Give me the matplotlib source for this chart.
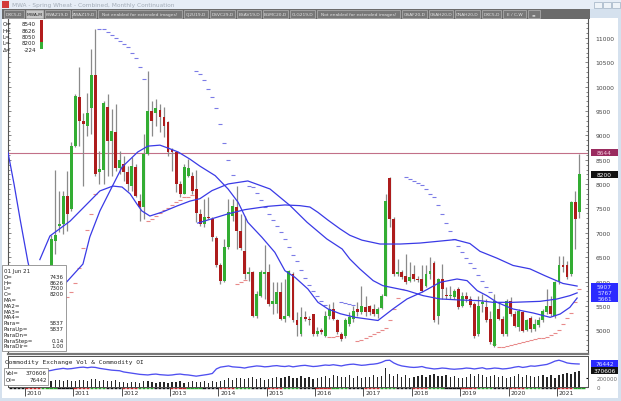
import numpy as np
import pandas as pd
import matplotlib
matplotlib.use("Agg")
import matplotlib.pyplot as plt
from matplotlib.patches import Rectangle
from matplotlib.ticker import MultipleLocator
import matplotlib.transforms as mtransforms

# ------------------------------------------------------------------ data
first_month = "2010-07"
opens = [5750, 6830, 7150, 7180, 7760, 7490,
         8790, 9795, 9290, 9200, 9560, 10240, 8250, 8280, 9580, 8890, 9080, 8340,
         8410, 8240, 7970, 8360, 7660, 7520, 8620, 9510, 9450, 9520, 9380, 9270,
         8700, 8650, 8010, 7800, 8170, 8170, 7900, 7390, 7180, 7320, 7280, 6890,
         6330, 6020, 6700, 7350, 7520, 7040, 6630, 6160, 6190, 5300, 5710, 6150,
         6190, 5540, 5540, 5780, 5230, 5300, 6150, 5200, 4920, 5265, 5230, 5330,
         4920, 5000, 4890, 5300, 5440, 5200, 4920, 4890, 5130, 5230, 5440, 5370,
         5470, 5500, 5440, 5330, 5450, 5710, 8120, 7280, 6155, 6200, 6120, 6010,
         6150, 6060, 6050, 5915, 6150, 6390, 5300, 6050, 5720, 5700, 5680, 5850,
         5500, 5710, 5640, 5540, 4920, 5540, 5470, 5230, 4680, 5440, 5230, 4920,
         5600, 5330, 5060, 5370, 5000, 5260, 5030, 5100, 5200, 5370, 5500, 5300,
         5980, 6330, 6330, 6155, 7626, 7436]
highs = [6950, 8300, 7860, 7850, 8270, 8860,
         9850, 10400, 9470, 9880, 10770, 11180, 8690, 9700, 9850, 9540, 9640, 8690,
         8580, 8380, 8550, 8410, 7800, 9030, 10330, 9710, 9750, 9640, 9580, 9300,
         8750, 8690, 8070, 8410, 8510, 8240, 8300, 7490, 7700, 7730, 7320, 6930,
         6390, 6870, 7700, 7700, 7970, 7390, 7350, 6290, 6220, 5800, 6230, 6740,
         6360, 5980, 5980, 5980, 6050, 6230, 6190, 5370, 5470, 5400, 5300, 5340,
         5060, 5050, 5400, 5540, 5570, 5230, 4960, 5250, 5370, 5500, 5570, 5900,
         5700, 5520, 5540, 5470, 5740, 7800, 8150, 7320, 6460, 6230, 6560, 6400,
         6330, 6120, 6330, 6330, 6500, 6420, 6080, 6360, 5880, 5900, 5850, 5880,
         5780, 5780, 5710, 5580, 5710, 5740, 5640, 5400, 5740, 5570, 5300, 5640,
         5680, 5400, 5440, 5400, 5230, 5300, 5230, 5270, 5440, 5850, 5710, 6020,
         6530, 6530, 6430, 7660, 7865, 8626]
lows = [5450, 6560, 7010, 6980, 7030, 7450,
        8760, 8790, 7970, 8990, 9030, 8170, 8000, 8000, 8170, 8170, 8270, 8210,
        8070, 7860, 7860, 7730, 7250, 7280, 8600, 8990, 9200, 9060, 8960, 8580,
        8270, 7830, 7730, 7790, 8140, 7800, 7220, 7150, 7110, 7280, 6840, 6290,
        5950, 5990, 6670, 7250, 6670, 6650, 6050, 6010, 5270, 5250, 5680, 5640,
        5500, 5330, 5360, 5200, 5160, 5270, 5160, 4890, 4890, 5190, 5100, 4890,
        4890, 4930, 4860, 5230, 5200, 4920, 4780, 4850, 5090, 5160, 5300, 5330,
        5300, 5320, 5300, 5260, 5430, 5700, 7110, 6120, 6120, 6050, 5950, 5980,
        6020, 5990, 5780, 5880, 6050, 5160, 5130, 5640, 5640, 5640, 5640, 5430,
        5470, 5580, 5480, 4850, 4890, 5370, 5160, 4720, 4650, 5200, 4890, 4890,
        5300, 5060, 4990, 4960, 4990, 4960, 4990, 5060, 5160, 5330, 5300, 5260,
        5950, 6190, 6050, 6120, 6670, 7300]
closes = [6870, 6960, 7190, 7760, 7390, 8790,
          9815, 9290, 9230, 9450, 10240, 8210, 8310, 9660, 8890, 9100, 8340, 8490,
          8240, 8010, 8380, 7760, 7520, 8620, 9510, 9300, 9555, 9370, 9200, 8650,
          8660, 8000, 7800, 8360, 8340, 7860, 7400, 7180, 7320, 7300, 6910, 6330,
          6020, 6700, 7420, 7560, 7040, 6680, 6155, 6190, 5300, 5745, 6190, 6200,
          5540, 5600, 5780, 5230, 5300, 6220, 5200, 5100, 5265, 5230, 5200, 4920,
          4990, 4960, 5300, 5440, 5230, 4960, 4820, 5200, 5265, 5400, 5370, 5500,
          5370, 5370, 5330, 5430, 5710, 7660, 7280, 6155, 6200, 6090, 5990, 6090,
          6050, 6030, 5810, 6155, 6220, 5200, 6050, 5850, 5700, 5720, 5810, 5470,
          5710, 5640, 5520, 4890, 5500, 5580, 5200, 4750, 5600, 5230, 4920, 5590,
          5330, 5090, 5400, 4990, 5200, 5030, 5130, 5200, 5400, 5500, 5330, 5980,
          6330, 6300, 6090, 7626, 7284, 8200]
volume_k = [150, 170, 160, 150, 165, 140,
            150, 160, 170, 140, 180, 190, 140, 170, 150, 130, 160, 120,
            110, 100, 120, 110, 100, 130, 140, 110, 100, 110, 120, 90,
            110, 120, 130, 100, 120, 140, 110, 120, 130, 100, 140, 110,
            150, 160, 200, 170, 210, 220, 180, 200, 230, 190, 220, 170,
            190, 210, 230, 200, 240, 260, 210, 220, 250, 200, 240, 190,
            210, 230, 260, 220, 270, 250, 230, 240, 270, 220, 250, 210,
            230, 240, 280, 230, 260, 450, 300, 260, 300, 240, 270, 220,
            230, 250, 280, 240, 270, 300, 250, 260, 280, 230, 260, 210,
            220, 240, 290, 250, 300, 280, 240, 260, 280, 230, 250, 200,
            230, 250, 290, 240, 270, 260, 230, 250, 280, 240, 270, 220,
            280, 300, 330, 290, 340, 370.606]
oi_first_month = "2009-09"
open_interest_k = [38, 40, 42, 44,
                   45, 47, 48, 50, 52, 53, 55, 58, 60, 62, 60, 61,
                   63, 65, 66, 64, 66, 65, 62, 60, 58, 56, 55, 54,
                   50, 48, 46, 44, 42, 41, 40, 42, 43, 41, 40, 39,
                   40, 42, 43, 41, 40, 38, 36, 38, 40, 42, 45, 60,
                   66, 68, 70, 67, 66, 65, 63, 66, 68, 70, 69, 67,
                   68, 70, 71, 69, 68, 70, 67, 69, 71, 72, 70, 68,
                   69, 71, 73, 72, 74, 72, 70, 73, 75, 76, 74, 72,
                   73, 75, 76, 78, 82, 88, 89, 80, 74, 70, 68, 66,
                   65, 66, 68, 64, 62, 60, 61, 63, 62, 60, 59, 60,
                   61, 63, 62, 60, 62, 64, 60, 61, 63, 62, 60, 61,
                   63, 66, 68, 65, 67, 70, 69, 71, 73, 75, 80, 86,
                   89, 85, 80, 78, 77, 76.442]

# moving-average lines (month index from Jan 2010, value)
ma1_t = [-4.7, -3.2, -1.7, 0.2, 3.2, 6.2, 7.7, 9.4, 13.9, 15.6, 18.1, 20.6, 23.6, 27.5,
         30.0, 33.0, 35.0, 37.5, 40.4, 42.9, 46.7, 49.9, 52.4, 54.8, 58.3, 61.5, 64.0,
         66.5, 69.7, 72.2, 74.7, 77.7, 81.4, 87.1, 90.8, 94.3, 98.3, 102.5, 106.7, 109.2,
         111.7, 114.1, 116.6, 120.6, 125.6, 129.8, 132.3, 134.7, 136.5]
ma1_v = [8650, 8000, 7280, 6420, 5300, 5250, 5500, 5950, 6360, 6915, 7450, 7860, 8350, 8660,
         8780, 8800, 8740, 8660, 8515, 8370, 8174, 7900, 7626, 7216, 6908, 6600, 6223,
         6086, 5847, 5573, 5436, 5340, 5265, 5200, 5436, 5642, 5792, 5984, 6052, 6018,
         5813, 5710, 5573, 5436, 5354, 5265, 5333, 5470, 5661]
ma2_t = [3.2, 5.7, 10.7, 15.6, 18.1, 21.3, 23.6, 25.6, 27.3, 28.5, 30.5, 33.7, 37.2, 40.4,
         42.9, 45.9, 49.9, 54.8, 60.3, 65.3, 69.5, 74.4, 78.2, 80.1, 82.6, 85.9, 88.3, 94.3,
         98.3, 102.5, 107.4, 112.4, 115.6, 120.6, 127.3, 131.5, 134.7, 136.5]
ma2_v = [6450, 6935, 7240, 7650, 7860, 7960, 7940, 7800, 7590, 7450, 7345, 7430, 7550, 7650,
         7700, 7866, 8003, 8065, 7900, 7558, 7216, 6874, 6668, 6463, 6258, 6018, 5915, 5813,
         5710, 5642, 5621, 5607, 5573, 5573, 5593, 5641, 5710, 5767]
ma3_t = [42.4, 49.9, 54.1, 59.8, 64.0, 67.7, 70.2, 72.2, 74.7, 77.7, 80.1, 83.1, 87.6, 92.6,
         97.5, 102.5, 106.2, 109.9, 112.4, 116.6, 120.6, 124.8, 128.5, 133.0, 136.5]
ma3_v = [7200, 7390, 7476, 7544, 7572, 7558, 7530, 7420, 7260, 7080, 6950, 6850, 6770, 6770,
         6790, 6830, 6860, 6780, 6620, 6480, 6330, 6260, 6120, 5960, 5907]

ref_level = 8644
price_ticks = list(range(5000, 11001, 500))
year_labels = [str(y) for y in range(2010, 2022)]
top_readout = [("O=", "8540"), ("H=", "8626"), ("L=", "8050"), ("L=", "8200"), ("Δ=", "-224")]
info_rows = [("01 Jun 21", ""), ("O=", "7436"), ("H=", "8626"), ("L=", "7300"), ("C=", "8200"),
             ("MA=", ""), ("MA2=", ""), ("MA3=", ""), ("MA4=", ""), ("Para=", "5837"),
             ("ParaUp=", "5837"), ("ParaDn=", ""), ("ParaStep=", "0.14"), ("ParaDir=", "1.00")]
toolbar = ["DXC5,D", "MWA,M", "KWAZ19,D", "ZWAZ19,D", "Not enabled for extended images!",
           "CJ2U19,D", "DSVC29,D", "BSAV19,D", "BGMC20,D", "CLG219,D",
           "Not enabled for extended images!", "GSAF20,D", "GSAH20,D", "CNAH20,D",
           "DXC5,D", "E / C,W", "≡"]

# ------------------------------------------------------------------ helpers
W, H = 621, 402
fig = plt.figure(figsize=(W / 100, H / 100), dpi=100)
fig.patch.set_facecolor("#d5e1ee")


def fbox(x0, y0, x1, y1, fc, ec="none", lw=0.0, z=1):
    r = Rectangle((x0 / W, 1 - y1 / H), (x1 - x0) / W, (y1 - y0) / H,
                  transform=fig.transFigure, fc=fc, ec=ec, lw=lw, zorder=z)
    fig.add_artist(r)
    return r


def ftext(x, y, s, **kw):
    kw.setdefault("va", "center")
    return fig.text(x / W, 1 - y / H, s, **kw)


def month_index(periods):
    return np.array([(p.year - 2010) * 12 + p.month - 1 for p in periods], dtype=float)


o = np.array(opens, float); h = np.array(highs, float)
l = np.array(lows, float); c = np.array(closes, float)
t = month_index(pd.period_range(first_month, periods=len(closes), freq="M"))
t_oi = month_index(pd.period_range(oi_first_month, periods=len(open_interest_k), freq="M"))


def psar(hi, lo, af0=0.02, step=0.02, afmax=0.2):
    n = len(hi)
    sar = np.full(n, np.nan)
    up = np.zeros(n, bool)
    trend_up = True
    ep = hi[0]
    af = af0
    s = lo[0]
    sar[0] = s
    up[0] = True
    for i in range(1, n):
        s = s + af * (ep - s)
        if trend_up:
            s = min(s, lo[i - 1], lo[max(i - 2, 0)])
            if lo[i] < s:
                trend_up = False
                s = ep
                ep = lo[i]
                af = af0
            elif hi[i] > ep:
                ep = hi[i]
                af = min(af + step, afmax)
        else:
            s = max(s, hi[i - 1], hi[max(i - 2, 0)])
            if hi[i] > s:
                trend_up = True
                s = ep
                ep = hi[i]
                af = af0
            elif lo[i] < ep:
                ep = lo[i]
                af = min(af + step, afmax)
        sar[i] = s
        up[i] = trend_up
    return sar, up


# ------------------------------------------------------------------ frame
fbox(0, 0, W, 10, "#e6edf6", z=-2)
fbox(2, 2, 9, 9, "#d23a3a")
ftext(12, 5.5, "MWA - Spring Wheat - Combined, Monthly Continuation", fontsize=4.2, color="#a3adb8")
for x0 in (594, 603, 612):
    fbox(x0, 2.5, x0 + 7.5, 8.5, "#eef3f8", ec="#9fb0c2", lw=0.5)
fbox(2, 19, 618, 399, "white", z=-2)
fbox(2, 10, 590, 19.5, "#6b6b6b")

# toolbar buttons
bx = 4.0
for name in toolbar:
    w = max(12.0, len(name) * 2.45 + 5)
    hl = name == "MWA,M"
    fbox(bx, 11, bx + w, 18.5, "#c6c6c6" if hl else "#777777", ec="#b5b5b5", lw=0.5, z=2)
    ftext(bx + w / 2, 14.8, name, ha="center", fontsize=3.2,
          color="#222222" if hl else "#e3e3e3", zorder=3)
    bx += w + 2

# ------------------------------------------------------------------ main pane
ax = fig.add_axes([8 / W, 1 - 355 / H, 580 / W, 335 / H])
ax.set_facecolor("white")
xmin, xmax = -4.7, 139.2
ax.set_xlim(xmin, xmax)
ax.set_ylim(4512, 11390)

green, red, wick = "#33ad33", "#ad1c1c", "#8a8a8a"
ax.vlines(t, l, h, color=wick, lw=0.9, zorder=2)
rising = c >= o
body_lo = np.minimum(o, c)
body_h = np.maximum(np.abs(c - o), 30)
ax.bar(t, body_h, bottom=body_lo, width=0.72,
       color=np.where(rising, green, red), edgecolor="none", zorder=3)

sar, sar_up = psar(h, l)
ax.plot(t[1:][~sar_up[1:]], sar[1:][~sar_up[1:]], ls="none", marker="_", ms=3.2, mew=0.8,
        color="#7b7be6", zorder=2)
ax.plot(t[1:][sar_up[1:]], sar[1:][sar_up[1:]], ls="none", marker="_", ms=3.2, mew=0.8,
        color="#e88a8a", zorder=2)

for mt, mv in ((ma1_t, ma1_v), (ma2_t, ma2_v), (ma3_t, ma3_v)):
    ax.plot(mt, mv, color="#3a3ae6", lw=0.9, zorder=4)

ax.axhline(ref_level, color="#c27088", lw=0.8, zorder=1)

ax.set_yticks(price_ticks)
ax.yaxis.set_minor_locator(MultipleLocator(100))
ax.tick_params(axis="y", which="both", left=True, right=True, labelleft=False,
               labelright=True, direction="in", length=2, width=0.5, color="#555555",
               labelsize=4.3, labelcolor="#444444", pad=5.5)
ax.tick_params(axis="y", which="minor", length=1.2)
ax.set_xticks([])
for side in ("left", "right"):
    ax.spines[side].set_color("#555555")
    ax.spines[side].set_linewidth(0.8)
ax.spines["top"].set_visible(False)
ax.spines["bottom"].set_color("#777777")
ax.spines["bottom"].set_linewidth(1.6)

# ------------------------------------------------------------------ volume pane
axv = fig.add_axes([8 / W, 1 - 388 / H, 580 / W, 31 / H])
axv.set_xlim(xmin, xmax)
vol = np.array(volume_k) * 1000
axv.set_ylim(0, 718000)
axv.bar(t, vol, width=0.32, color="#262626", edgecolor="none", zorder=2)
axo = axv.twinx()
axo.set_xlim(xmin, xmax)
oi = np.array(open_interest_k) * 1000
axo.set_ylim(0, 103000)
axo.plot(t_oi, oi, color="#4f4ff0", lw=0.95, zorder=3)
axo.set_yticks([])
axv.set_yticks([0, 200000])
axv.set_yticklabels(["0", "200000"])
axv.yaxis.set_ticks_position("right")
axv.yaxis.set_label_position("right")
axv.tick_params(axis="y", left=False, right=True, labelleft=False, labelright=True,
                direction="in", length=1.5, labelsize=4.0, labelcolor="#666666", pad=6)
for a in (axv, axo):
    for s in a.spines.values():
        s.set_color("#555555")
        s.set_linewidth(0.7)

# year axis
jan = np.array([(int(y) - 2010) * 12 for y in year_labels], float)
axv.set_xticks(jan - 0.5)
axv.set_xticklabels([])
axv.tick_params(axis="x", direction="out", length=6.5, width=0.6, color="#333333")
blend = mtransforms.blended_transform_factory(axv.transData, fig.transFigure)
for xj, lab in zip(jan, year_labels):
    axv.text(xj - 0.1, 1 - 394 / H, lab, transform=blend, fontsize=4.3, color="#333333",
             ha="left", va="center", clip_on=False)
strip = mtransforms.blended_transform_factory(axv.transData, axv.transAxes)
seg_cols = ["#c02020", "#22a022", "#111111"]
for m in range(int(np.floor(xmin)) + 1, int(xmax)):
    col = seg_cols[(m % 12) // 4]
    axv.plot([m - 0.45, m + 0.35], [-0.035, -0.035], transform=strip, color=col, lw=1.0,
             clip_on=False, solid_capstyle="butt")

# ------------------------------------------------------------------ value boxes
def value_box(axis, val, fc, tc, label):
    yf = axis.transData.transform((0, val))[1] / fig.bbox.height
    hh = 7 / H
    fig.add_artist(Rectangle((591 / W, yf - hh / 2), 27 / W, hh, transform=fig.transFigure,
                             fc=fc, ec="none", zorder=6))
    fig.text(604.5 / W, yf, label, ha="center", va="center", fontsize=4.2, color=tc, zorder=7)


value_box(ax, ref_level, "#9a2b5f", "#f3cadb", str(ref_level))
value_box(ax, closes[-1], "#121212", "#ffffff", str(closes[-1]))
for v in (ma3_v[-1], ma2_v[-1], ma1_v[-1]):
    value_box(ax, v, "#2b2bff", "#dfe3ff", str(v))
value_box(axo, oi[-1], "#2b2bff", "#dfe3ff", f"{int(round(oi[-1]))}")
value_box(axv, vol[-1], "#121212", "#ffffff", f"{int(round(vol[-1]))}")

# ------------------------------------------------------------------ overlays
for i, (k, v) in enumerate(top_readout):
    y = 25 + 6.3 * i
    ftext(2.5, y, k, fontsize=4.0, color="#222222", zorder=8)
    ftext(36, y, v, fontsize=4.0, color="#222222", ha="right", zorder=8)
fbox(40, 21, 43, 43, "#b21d1d", z=8)
fbox(40, 43, 43, 50, "#35b035", z=8)

fbox(2, 266, 66, 352, "white", ec="#8a8a8a", lw=0.6, z=7)
for i, (k, v) in enumerate(info_rows):
    y = 271.5 + 5.8 * i
    ftext(4, y, k, fontsize=4.0, color="#222222", zorder=8)
    if v:
        ftext(64, y, v, fontsize=4.0, color="#222222", ha="right", zorder=8)

ftext(5, 362.5, "Commodity Exchange Vol & Commodity OI", fontsize=4.4,
      family="DejaVu Sans Mono", color="#222222", zorder=8)
fbox(4, 369, 48, 386, "white", ec="#777777", lw=0.5, z=7)
ftext(5.5, 373.5, "Vol=", fontsize=4.0, color="#222222", zorder=8)
ftext(47, 373.5, f"{int(round(vol[-1]))}", fontsize=4.0, color="#222222", ha="right", zorder=8)
ftext(5.5, 380.5, "OI=", fontsize=4.0, color="#222222", zorder=8)
ftext(47, 380.5, f"{int(round(oi[-1]))}", fontsize=4.0, color="#222222", ha="right", zorder=8)

fig.savefig("out.png", dpi=100, facecolor=fig.get_facecolor())
